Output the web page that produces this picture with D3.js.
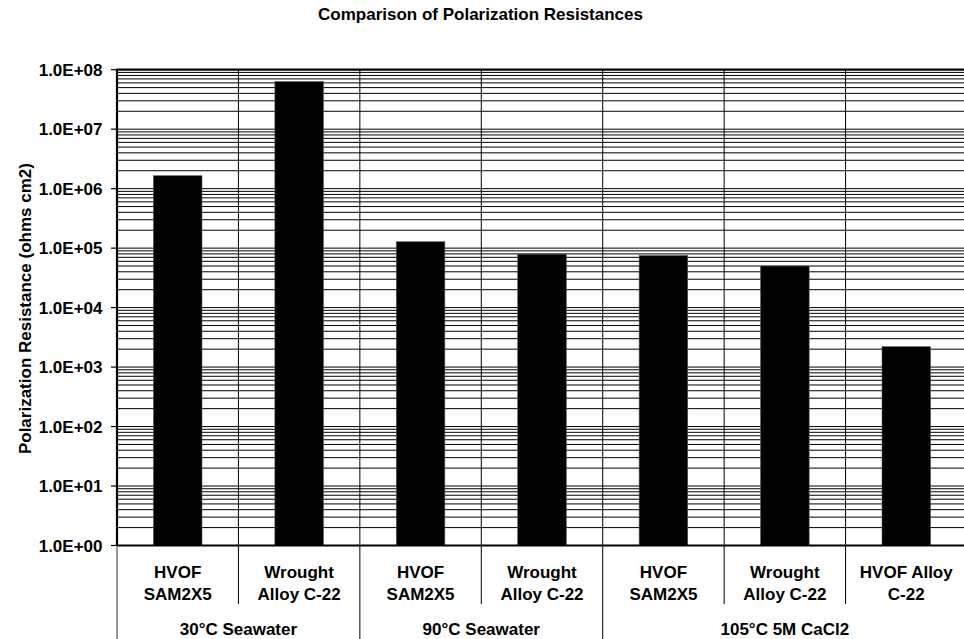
<!DOCTYPE html>
<html>
<head>
<meta charset="utf-8">
<script src="https://cdn.jsdelivr.net/npm/d3@7"></script>
<style>
  html, body { margin: 0; padding: 0; background: #fff; }
  svg { display: block; font-family: "Liberation Sans", Arial, sans-serif; font-weight: bold; }
</style>
</head>
<body>
<svg id="chart" width="964" height="639"></svg>
<script>
// Polarization resistance per material / environment
const categories = [
  ["HVOF", "SAM2X5"],
  ["Wrought", "Alloy C-22"],
  ["HVOF", "SAM2X5"],
  ["Wrought", "Alloy C-22"],
  ["HVOF", "SAM2X5"],
  ["Wrought", "Alloy C-22"],
  ["HVOF Alloy", "C-22"]
];
const groups = ["30°C Seawater", "90°C Seawater", "105°C 5M CaCl2"];
const groupSizes = [2, 2, 3];
const resistance = [1.65e6, 6.3e7, 1.28e5, 7.9e4, 7.5e4, 5.0e4, 2.2e3];
const yTicks = [1e0, 1e1, 1e2, 1e3, 1e4, 1e5, 1e6, 1e7, 1e8];
const yTickLabels = ["1.0E+00", "1.0E+01", "1.0E+02", "1.0E+03", "1.0E+04",
                     "1.0E+05", "1.0E+06", "1.0E+07", "1.0E+08"];

const svg = d3.select("#chart");
const plotLeft = 117, plotRight = 967, plotTop = 69.7, plotBottom = 545.5;

const x = d3.scaleBand()
  .domain(d3.range(categories.length))
  .range([plotLeft, plotRight])
  .paddingInner(0.6)
  .paddingOuter(0.3);
const step = x.step();
const edge = i => plotLeft + i * step;  // category boundary

const y = d3.scaleLog().domain([1, 1e8]).range([plotBottom, plotTop]);

// Title
svg.append("text")
  .attr("x", 480.5).attr("y", 19.5)
  .attr("text-anchor", "middle")
  .style("font-size", "17px")
  .text("Comparison of Polarization Resistances");

// Y axis title
svg.append("text")
  .attr("transform", `translate(31,${(plotTop + plotBottom) / 2 + 1}) rotate(-90)`)
  .attr("text-anchor", "middle")
  .style("font-size", "17px")
  .text("Polarization Resistance (ohms cm2)");

// Horizontal gridlines at every 1..9 x 10^k
const gridVals = [];
for (let k = 0; k < 8; k++) for (let m = 2; m <= 9; m++) gridVals.push(m * Math.pow(10, k));
const gridAll = gridVals.concat(yTicks.slice(1, -1));
svg.append("g").selectAll("line").data(gridAll).join("line")
  .attr("x1", plotLeft).attr("x2", plotRight)
  .attr("y1", d => y(d)).attr("y2", d => y(d))
  .attr("stroke", "#000").attr("stroke-width", 1);

// Vertical category separators inside the plot
svg.append("g").selectAll("line").data(d3.range(1, categories.length)).join("line")
  .attr("x1", edge).attr("x2", edge)
  .attr("y1", plotTop).attr("y2", plotBottom)
  .attr("stroke", "#000").attr("stroke-width", 1);

// Bars
svg.append("g").selectAll("rect").data(resistance).join("rect")
  .attr("x", (d, i) => x(i))
  .attr("width", x.bandwidth())
  .attr("y", d => y(d))
  .attr("height", d => y(1) - y(d))
  .attr("fill", "#000")
  .attr("stroke", "#555").attr("stroke-width", 0.6);

// Plot frame lines (top, left, bottom)
svg.append("line").attr("x1", plotLeft).attr("x2", plotRight).attr("y1", plotTop).attr("y2", plotTop)
  .attr("stroke", "#000").attr("stroke-width", 2.2);
svg.append("line").attr("x1", plotLeft).attr("x2", plotRight).attr("y1", plotBottom).attr("y2", plotBottom)
  .attr("stroke", "#000").attr("stroke-width", 2.2);
svg.append("line").attr("x1", plotLeft).attr("x2", plotLeft).attr("y1", plotTop - 1).attr("y2", plotBottom)
  .attr("stroke", "#000").attr("stroke-width", 2.2);

// Y axis ticks and labels
const yAxis = svg.append("g");
yAxis.selectAll("line").data(yTicks).join("line")
  .attr("x1", plotLeft - 6).attr("x2", plotLeft)
  .attr("y1", d => y(d)).attr("y2", d => y(d))
  .attr("stroke", "#000").attr("stroke-width", 1.2);
yAxis.selectAll("text").data(yTicks).join("text")
  .attr("x", 102.5).attr("y", d => y(d) + 6)
  .attr("text-anchor", "end")
  .style("font-size", "17px")
  .text((d, i) => yTickLabels[i]);

// Category separators below the axis: short inside a group, long between groups
const groupStarts = [0];
groupSizes.forEach((n, i) => groupStarts.push(groupStarts[i] + n));
const sepBelow = d3.range(0, categories.length).map(i => ({
  i, long: groupStarts.includes(i)
}));
svg.append("g").selectAll("line").data(sepBelow).join("line")
  .attr("x1", d => edge(d.i)).attr("x2", d => edge(d.i))
  .attr("y1", plotBottom).attr("y2", d => d.long ? 639 : 604)
  .attr("stroke", d => d.i === 0 ? "#777" : "#000").attr("stroke-width", d => d.i === 0 ? 1.5 : 1);

// Category labels
const catG = svg.append("g").selectAll("text").data(categories).join("text")
  .attr("text-anchor", "middle")
  .style("font-size", "17px");
catG.selectAll("tspan").data((d, i) => d.map(t => ({ t, i }))).join("tspan")
  .attr("x", d => x(d.i) + x.bandwidth() / 2)
  .attr("y", (d, j) => 577.5 + j * 22)
  .text(d => d.t);

// Group labels
svg.append("g").selectAll("text").data(groups).join("text")
  .attr("x", (d, i) => (edge(groupStarts[i]) + edge(groupStarts[i + 1])) / 2)
  .attr("y", 635)
  .attr("text-anchor", "middle")
  .style("font-size", "17px")
  .text(d => d);
</script>
</body>
</html>
